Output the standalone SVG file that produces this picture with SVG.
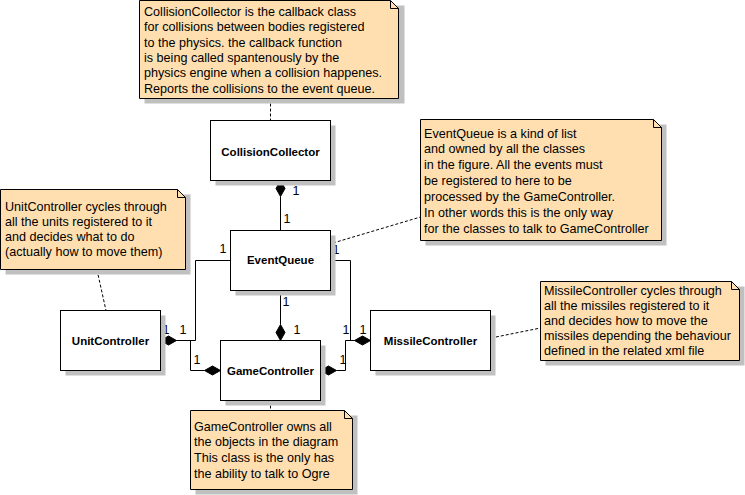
<svg xmlns="http://www.w3.org/2000/svg" width="745" height="495" viewBox="0 0 745 495">
<style>
.sh{fill:#c0c0c0;stroke:none}
.cls{fill:#ffffff;stroke:#000;stroke-width:1}
.note{fill:#ffdfb0;stroke:#000;stroke-width:1}
.fold{fill:none;stroke:#000;stroke-width:1}
.cn{font-family:"Liberation Sans",Arial,sans-serif;font-size:11.5px;font-weight:bold;fill:#000;text-anchor:middle}
.nt{font-family:"Liberation Sans",Arial,sans-serif;font-size:12.6px;fill:#000}
.lb{font-family:"Liberation Sans",Arial,sans-serif;font-size:12.5px;fill:#000;text-anchor:middle}
.ln{fill:none;stroke:#000;stroke-width:1}
.dia{fill:#000;stroke:#000;stroke-width:1}
.dash{fill:none;stroke:#000;stroke-width:1;stroke-dasharray:3,2}
</style>
<rect width="745" height="495" fill="#ffffff"/>
<g id="connectors">
  <line class="dash" x1="270.5" y1="98.5" x2="270.5" y2="120.5"/>
  <line class="dash" x1="333" y1="243" x2="420.5" y2="217"/>
  <line class="dash" x1="97" y1="270" x2="106" y2="310.5"/>
  <line class="dash" x1="491" y1="338" x2="540.5" y2="328"/>
  <line class="dash" x1="270.5" y1="400.5" x2="270.5" y2="410.5"/>
  <line class="ln" x1="280.5" y1="196.5" x2="280.5" y2="230.5"/>
  <polygon class="dia" points="280.5,180.5 285,188.5 280.5,196.5 276,188.5"/>
  <line class="ln" x1="280.5" y1="290.5" x2="280.5" y2="324.5"/>
  <polygon class="dia" points="280.5,324.5 285,332.5 280.5,340.5 276,332.5"/>
  <polyline class="ln" points="230.5,260.5 195.5,260.5 195.5,340.5 176.5,340.5"/>
  <polygon class="dia" points="160.5,340.5 168.5,336 176.5,340.5 168.5,345"/>
  <polyline class="ln" points="176.5,340.5 190.5,340.5 190.5,370.5 204.5,370.5"/>
  <polygon class="dia" points="204.5,370.5 212.5,366 220.5,370.5 212.5,375"/>
  <polyline class="ln" points="330.5,260.5 350.5,260.5 350.5,340.5 354.5,340.5"/>
  <polygon class="dia" points="354.5,340.5 362.5,336 370.5,340.5 362.5,345"/>
  <polyline class="ln" points="354.5,340.5 345.5,340.5 345.5,370.5 336.5,370.5"/>
  <polygon class="dia" points="320.5,370.5 328.5,366 336.5,370.5 328.5,375"/>
  <text class="lb" x="296" y="195">1</text>
  <text class="lb" x="287" y="223">1</text>
  <text class="lb" x="286" y="306">1</text>
  <text class="lb" x="297" y="334">1</text>
  <text class="lb" x="223" y="253">1</text>
  <text class="lb" x="183" y="334">1</text>
  <text class="lb" x="166" y="334">1</text>
  <text class="lb" x="197" y="364">1</text>
  <text class="lb" x="336" y="254">1</text>
  <text class="lb" x="346" y="334">1</text>
  <text class="lb" x="363" y="334">1</text>
  <text class="lb" x="343" y="364">1</text>
</g>
<g id="CollisionCollector">
  <rect class="sh" x="215.5" y="125.5" width="120" height="60"/>
  <rect class="cls" x="210.5" y="120.5" width="120" height="60"/>
  <text class="cn" x="270.5" y="156">CollisionCollector</text>
</g>
<g id="EventQueue">
  <rect class="sh" x="235.5" y="235.5" width="100" height="60"/>
  <rect class="cls" x="230.5" y="230.5" width="100" height="60"/>
  <text class="cn" x="280.5" y="264">EventQueue</text>
</g>
<g id="UnitController">
  <rect class="sh" x="65.5" y="315.5" width="100" height="60"/>
  <rect class="cls" x="60.5" y="310.5" width="100" height="60"/>
  <text class="cn" x="110.5" y="345">UnitController</text>
</g>
<g id="GameController">
  <rect class="sh" x="225.5" y="345.5" width="100" height="60"/>
  <rect class="cls" x="220.5" y="340.5" width="100" height="60"/>
  <text class="cn" x="270.5" y="375">GameController</text>
</g>
<g id="MissileController">
  <rect class="sh" x="375.5" y="315.5" width="120" height="60"/>
  <rect class="cls" x="370.5" y="310.5" width="120" height="60"/>
  <text class="cn" x="430.5" y="345">MissileController</text>
</g>
<g id="noteCollision">
  <path class="sh" d="M144.5,5.5 H404.5 V103.5 H144.5 Z"/>
  <path class="note" d="M139.5,0.5 H390.5 L398.5,8.5 V98.5 H139.5 Z"/>
  <path class="fold" d="M390.5,0.5 V8.5 H398.5"/>
  <text class="nt" x="144" y="16">CollisionCollector is the callback class</text>
  <text class="nt" x="144" y="31.3">for collisions between bodies registered</text>
  <text class="nt" x="144" y="46.6">to the physics. the callback function</text>
  <text class="nt" x="144" y="61.9">is being called spantenously by the</text>
  <text class="nt" x="144" y="77.2">physics engine when a collision happenes.</text>
  <text class="nt" x="144" y="92.5">Reports the collisions to the event queue.</text>
</g>
<g id="noteEventQueue">
  <path class="sh" d="M425.5,124.5 H666.5 V245.5 H425.5 Z"/>
  <path class="note" d="M420.5,119.5 H653.5 L661.5,127.5 V240.5 H420.5 Z"/>
  <path class="fold" d="M653.5,119.5 V127.5 H661.5"/>
  <text class="nt" x="424" y="137.5">EventQueue is a kind of list</text>
  <text class="nt" x="424" y="153.3">and owned by all the classes</text>
  <text class="nt" x="424" y="169.2">in the figure. All the events must</text>
  <text class="nt" x="424" y="185">be registered to here to be</text>
  <text class="nt" x="424" y="200.8">processed by the GameController.</text>
  <text class="nt" x="424" y="216.7">In other words this is the only way</text>
  <text class="nt" x="424" y="232.5">for the classes to talk to GameController</text>
</g>
<g id="noteUnit">
  <path class="sh" d="M5.5,194.5 H190.5 V274.5 H5.5 Z"/>
  <path class="note" d="M0.5,189.5 H177.5 L185.5,197.5 V269.5 H0.5 Z"/>
  <path class="fold" d="M177.5,189.5 V197.5 H185.5"/>
  <text class="nt" x="5" y="210.5">UnitController cycles through</text>
  <text class="nt" x="5" y="225.8">all the units registered to it</text>
  <text class="nt" x="5" y="241.1">and decides what to do</text>
  <text class="nt" x="5" y="256.4">(actually how to move them)</text>
</g>
<g id="noteMissile">
  <path class="sh" d="M545.5,286.5 H744.5 V365.5 H545.5 Z"/>
  <path class="note" d="M540.5,281.5 H731.5 L739.5,289.5 V360.5 H540.5 Z"/>
  <path class="fold" d="M731.5,281.5 V289.5 H739.5"/>
  <text class="nt" x="544" y="294.5">MissileController cycles through</text>
  <text class="nt" x="544" y="309.5">all the missiles registered to it</text>
  <text class="nt" x="544" y="324.5">and decides how to move the</text>
  <text class="nt" x="544" y="339.5">missiles depending the behaviour</text>
  <text class="nt" x="544" y="354.5">defined in the related xml file</text>
</g>
<g id="noteGame">
  <path class="sh" d="M195.5,415.5 H357.5 V494.5 H195.5 Z"/>
  <path class="note" d="M190.5,410.5 H344.5 L352.5,418.5 V489.5 H190.5 Z"/>
  <path class="fold" d="M344.5,410.5 V418.5 H352.5"/>
  <text class="nt" x="194" y="430.5">GameController owns all</text>
  <text class="nt" x="194" y="446.3">the objects in the diagram</text>
  <text class="nt" x="194" y="462">This class is the only has</text>
  <text class="nt" x="194" y="478">the ability to talk to Ogre</text>
</g>
</svg>
